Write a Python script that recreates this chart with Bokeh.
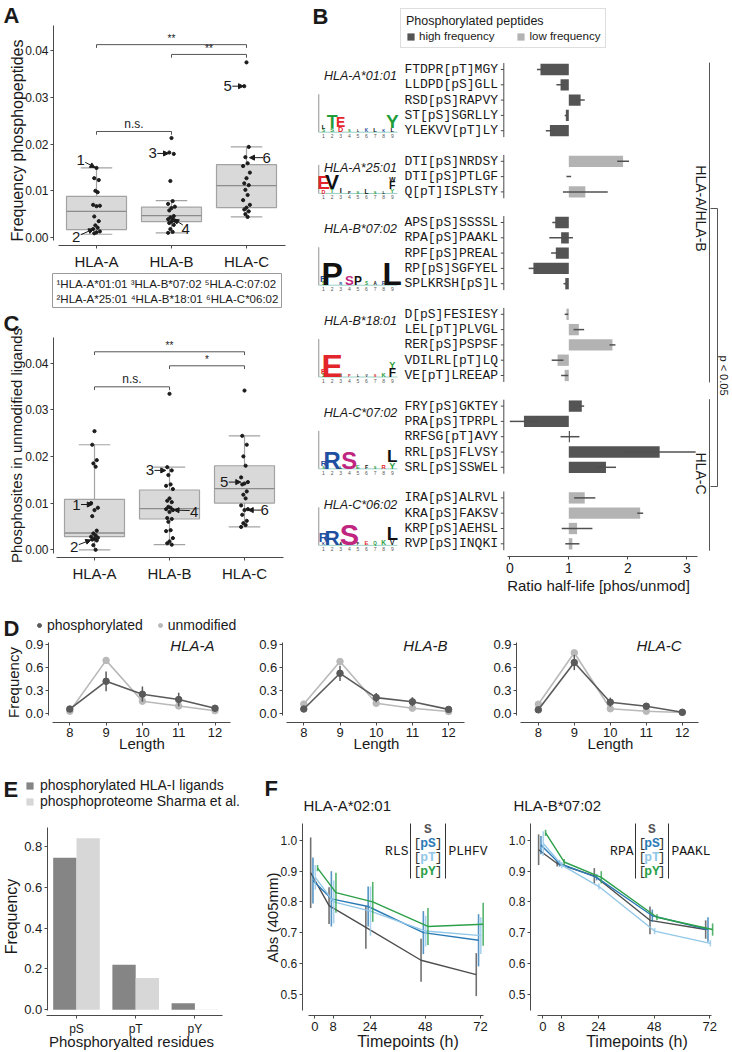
import math
from bokeh.plotting import figure
from bokeh.models import (Range1d, FixedTicker, NumeralTickFormatter, Label, Legend,
                          LegendItem, Arrow, NormalHead, ColumnDataSource, LinearAxis)
from bokeh.transform import dodge
from bokeh.core.properties import value
from bokeh.embed import file_html
from bokeh.resources import INLINE

SANS = "Liberation Sans"
MONO = "Liberation Mono"
TXT = "#1a1a1a"
AXC = "#4a4a4a"

# ----------------------------------------------------------------- data
hla_loci = ["HLA-A", "HLA-B", "HLA-C"]

# Panel A: frequency of phosphopeptides (box statistics + individual alleles)
a_low = [0.0007, 0.0010, 0.0044]
a_q1 = [0.0017, 0.0034, 0.0064]
a_med = [0.0056, 0.0047, 0.0111]
a_q3 = [0.0088, 0.0065, 0.0156]
a_high = [0.0149, 0.0079, 0.0194]
a_pts_hla_a = [0.0149, 0.0127, 0.0123, 0.0100, 0.0097, 0.0070, 0.0068, 0.0067, 0.0045,
               0.0035, 0.0026, 0.0021, 0.0018, 0.0013, 0.0011, 0.0009]
a_pts_hla_b = [0.0213, 0.0182, 0.0179, 0.0121, 0.0078, 0.0072, 0.0066, 0.0063, 0.0058,
               0.0046, 0.0043, 0.0040, 0.0039, 0.0036, 0.0034, 0.0031, 0.0027, 0.0018,
               0.0012, 0.0010]
a_pts_hla_c = [0.0375, 0.0324, 0.0194, 0.0172, 0.0159, 0.0153, 0.0139, 0.0127, 0.0116,
               0.0112, 0.0102, 0.0091, 0.0080, 0.0070, 0.0064, 0.0060, 0.0056, 0.0050, 0.0044]

# Panel C: phosphosites in unmodified ligands
c_low = [0.0000, 0.0011, 0.0049]
c_q1 = [0.0028, 0.0066, 0.0100]
c_med = [0.0036, 0.0088, 0.0131]
c_q3 = [0.0108, 0.0128, 0.0180]
c_high = [0.0225, 0.0177, 0.0244]
c_pts_hla_a = [0.0254, 0.0225, 0.0192, 0.0185, 0.0178, 0.0100, 0.0090, 0.0085, 0.0072,
               0.0041, 0.0035, 0.0031, 0.0028, 0.0026, 0.0024, 0.0022, 0.0020, 0.0010, 0.0000]
c_pts_hla_b = [0.0334, 0.0177, 0.0170, 0.0160, 0.0140, 0.0137, 0.0130, 0.0110, 0.0105,
               0.0102, 0.0092, 0.0090, 0.0087, 0.0085, 0.0081, 0.0068, 0.0066, 0.0060,
               0.0042, 0.0040, 0.0025, 0.0018, 0.0014, 0.0011]
c_pts_hla_c = [0.0341, 0.0244, 0.0225, 0.0200, 0.0180, 0.0155, 0.0145, 0.0142, 0.0140,
               0.0125, 0.0118, 0.0110, 0.0095, 0.0087, 0.0085, 0.0075, 0.0062, 0.0057,
               0.0053, 0.0049]

# Panel B: half-life ratios
b_alleles = ["HLA-A*01:01", "HLA-A*25:01", "HLA-B*07:02", "HLA-B*18:01", "HLA-C*07:02", "HLA-C*06:02"]
b_freq = ["high", "low", "high", "low", "high", "low"]
b_peptides = [
    ["FTDPR[pT]MGY", "LLDPD[pS]GLL", "RSD[pS]RAPVY", "ST[pS]SGRLLY", "YLEKVV[pT]LY"],
    ["DTI[pS]NRDSY", "DTI[pS]PTLGF", "Q[pT]ISPLSTY"],
    ["APS[pS]SSSSL", "RPA[pS]PAAKL", "RPF[pS]PREAL", "RP[pS]SGFYEL", "SPLKRSH[pS]L"],
    ["D[pS]FESIESY", "LEL[pT]PLVGL", "RER[pS]PSPSF", "VDILRL[pT]LQ", "VE[pT]LREEAP"],
    ["FRY[pS]GKTEY", "PRA[pS]TPRPL", "RRFSG[pT]AVY", "RRL[pS]FLVSY", "SRL[pS]SSWEL"],
    ["IRA[pS]ALRVL", "KRA[pS]FAKSV", "KRP[pS]AEHSL", "RVP[pS]INQKI"],
]
b_ratio = [
    [0.52, 0.86, 1.20, 0.95, 0.68],
    [1.92, 1.00, 1.28],
    [0.77, 0.87, 0.78, 0.40, 0.94],
    [0.96, 1.17, 1.74, 0.81, 0.93],
    [1.22, 0.24, 1.02, 2.54, 1.63],
    [1.27, 2.21, 1.14, 1.06],
]
b_err = [
    [0.06, 0.07, 0.07, 0.02, 0.07],
    [0.10, 0.04, 0.38],
    [0.05, 0.20, 0.08, 0.08, 0.03],
    [0.03, 0.09, 0.05, 0.10, 0.06],
    [0.04, 0.24, 0.16, 0.61, 0.17],
    [0.18, 0.05, 0.26, 0.12],
]
# sequence logos: (position, letter, bits, colour class), bottom to top
logo_a0101 = [(1, "S", 0.35, "g"), (1, "L", 0.45, "k"), (2, "S", 0.45, "g"), (2, "T", 1.35, "g"),
              (3, "D", 0.55, "r"), (3, "E", 1.05, "r"), (4, "S", 0.3, "g"), (5, "L", 0.25, "k"),
              (6, "K", 0.35, "b"), (7, "L", 0.45, "k"), (8, "K", 0.3, "b"), (9, "L", 0.45, "k"),
              (9, "Y", 1.45, "g")]
logo_a2501 = [(1, "D", 0.4, "r"), (1, "E", 1.45, "r"), (2, "T", 0.45, "g"), (2, "V", 1.6, "k"),
              (3, "I", 0.55, "k"), (4, "P", 0.3, "k"), (5, "S", 0.3, "g"), (6, "L", 0.5, "k"),
              (7, "S", 0.3, "g"), (8, "L", 0.3, "k"), (9, "Y", 0.45, "g"), (9, "F", 0.8, "k"),
              (9, "W", 0.5, "k")]
logo_b0702 = [(1, "S", 0.35, "g"), (1, "R", 0.75, "b"), (2, "P", 3.5, "k"), (3, "R", 0.3, "b"),
              (4, "S", 1.0, "m"), (5, "P", 0.9, "k"), (6, "S", 0.35, "g"), (7, "A", 0.35, "k"),
              (8, "R", 0.4, "b"), (9, "L", 2.4, "k")]
logo_b1801 = [(1, "S", 0.35, "g"), (1, "P", 0.55, "r"), (2, "E", 3.7, "r"), (3, "T", 0.25, "g"),
              (4, "P", 0.3, "r"), (5, "L", 0.25, "k"), (6, "V", 0.25, "k"), (7, "S", 0.3, "r"),
              (8, "K", 0.45, "g"), (9, "F", 0.9, "k"), (9, "Y", 0.7, "g")]
logo_c0702 = [(1, "S", 0.3, "g"), (1, "R", 0.6, "b"), (2, "R", 1.8, "b"), (3, "L", 0.3, "k"),
              (4, "S", 1.8, "m"), (5, "E", 0.45, "g"), (6, "F", 0.4, "k"), (7, "S", 0.3, "g"),
              (8, "R", 0.45, "r"), (9, "Y", 0.7, "g"), (9, "L", 1.3, "k")]
logo_c0602 = [(1, "K", 0.3, "b"), (1, "R", 1.0, "b"), (2, "R", 1.6, "b"), (3, "A", 0.3, "k"),
              (4, "S", 2.2, "m"), (5, "F", 0.3, "k"), (6, "E", 0.45, "r"), (7, "Q", 0.35, "g"),
              (8, "K", 0.5, "g"), (9, "V", 0.5, "k"), (9, "L", 1.4, "k")]
b_logos = [logo_a0101, logo_a2501, logo_b0702, logo_b1801, logo_c0702, logo_c0602]
b_logo_max_bits = [4, 3, 4, 4, 4, 4]

# Panel D: peptide length distributions
d_lengths = [8, 9, 10, 11, 12]
d_phos_hla_a = [0.055, 0.42, 0.25, 0.18, 0.065]
d_phos_err_hla_a = [0.03, 0.13, 0.10, 0.09, 0.02]
d_unmod_hla_a = [0.026, 0.695, 0.158, 0.095, 0.033]
d_unmod_err_hla_a = [0.01, 0.04, 0.02, 0.01, 0.01]
d_phos_hla_b = [0.055, 0.525, 0.205, 0.15, 0.05]
d_phos_err_hla_b = [0.02, 0.10, 0.06, 0.06, 0.02]
d_unmod_hla_b = [0.12, 0.68, 0.13, 0.066, 0.022]
d_unmod_err_hla_b = [0.01, 0.03, 0.01, 0.01, 0.01]
d_phos_hla_c = [0.044, 0.667, 0.145, 0.092, 0.012]
d_phos_err_hla_c = [0.02, 0.10, 0.06, 0.04, 0.01]
d_unmod_hla_c = [0.118, 0.795, 0.058, 0.026, 0.010]
d_unmod_err_hla_c = [0.01, 0.03, 0.01, 0.01, 0.005]

# Panel E: phosphorylated residues
e_residues = ["pS", "pT", "pY"]
e_hla_ligands = [0.743, 0.220, 0.032]
e_sharma = [0.839, 0.155, 0.002]

# Panel F: stability assay
f_time = [0, 8, 24, 48, 72]
f_series = ["S", "pS", "pT", "pY"]
f1_S = [0.895, 0.788, 0.717, 0.610, 0.563]
f1_S_err = [0.115, 0.060, 0.070, 0.070, 0.070]
f1_pS = [0.870, 0.810, 0.785, 0.700, 0.675]
f1_pS_err = [0.075, 0.090, 0.065, 0.070, 0.085]
f1_pT = [0.880, 0.800, 0.770, 0.705, 0.690]
f1_pT_err = [0.040, 0.070, 0.080, 0.050, 0.060]
f1_pY = [0.910, 0.830, 0.800, 0.720, 0.727]
f1_pY_err = [0.010, 0.065, 0.065, 0.060, 0.070]
f2_S = [0.970, 0.925, 0.885, 0.740, 0.710]
f2_S_err = [0.050, 0.010, 0.025, 0.045, 0.030]
f2_pS = [0.985, 0.925, 0.880, 0.755, 0.710]
f2_pS_err = [0.030, 0.010, 0.010, 0.020, 0.040]
f2_pT = [0.990, 0.920, 0.850, 0.705, 0.665]
f2_pT_err = [0.040, 0.010, 0.010, 0.010, 0.010]
f2_pY = [1.025, 0.930, 0.880, 0.750, 0.710]
f2_pY_err = [0.010, 0.010, 0.020, 0.010, 0.020]

# ----------------------------------------------------------------- canvas
PX0, PX1, PY0, PY1 = 0, 730, 0, 1050          # page pixel box of the single frame
p = figure(width=PX1 - PX0, height=PY1 - PY0, x_range=Range1d(PX0, PX1),
           y_range=Range1d(PY1, PY0), x_axis_location=None, y_axis_location=None,
           min_border_left=0, min_border_right=0, min_border_top=0, min_border_bottom=0,
           toolbar_location=None, output_backend="svg")
p.outline_line_color = None
p.background_fill_color = "white"
p.border_fill_color = "white"
p.grid.visible = False
p.xgrid.visible = False
p.ygrid.visible = False

SC = {}
XR, YR = {}, {}


def def_x(name, v0, s0, ppu):
    SC[name] = (v0, s0, ppu, 1)
    XR[name] = Range1d(v0 + (PX0 - s0) / ppu, v0 + (PX1 - s0) / ppu)


def def_y(name, v0, s0, ppu, down=False):
    if down:
        SC[name] = (v0, s0, ppu, 1)
        YR[name] = Range1d(v0 + (PY1 - s0) / ppu, v0 - (s0 - PY0) / ppu)
    else:
        SC[name] = (v0, s0, ppu, -1)
        YR[name] = Range1d(v0 - (PY1 - s0) / ppu, v0 + (s0 - PY0) / ppu)


def at(name, s):
    v0, s0, ppu, sign = SC[name]
    return v0 + sign * (s - s0) / ppu


# panel scales (value v0 at page pixel s0, pixels per unit)
def_x("A_x", 1, 96, 75)
def_y("A_y", 0, 237, 4670)
def_x("C_x", 1, 94, 75)
def_y("C_y", 0, 549.3, 4670)
def_x("B_x", 0, 509.3, 59)
def_y("B_y", 0, 69, 15.3, down=True)
def_x("logo_x", 1, 323, 8.6)
def_x("D1_x", 8, 69.3, 36.3)
def_x("D2_x", 8, 303.3, 36.2)
def_x("D3_x", 8, 537.8, 36.0)
def_y("D_y", 0, 712.7, 76)
def_x("E_x", 1, 76, 59.2)
def_y("E_y", 0, 1009.3, 204.5)
def_x("F1_x", 0, 314.3, 2.3)
def_x("F2_x", 0, 542.3, 2.32)
def_y("F_y", 1.0, 840, 307)
p.extra_x_ranges = XR
p.extra_y_ranges = YR


def add_axis(side, xn, yn, fixed, bounds, ticks, fmt=None, overrides=None,
             tick_size="13px", standoff=2):
    ax = LinearAxis(x_range_name=xn, y_range_name=yn, fixed_location=fixed, bounds=bounds,
                    ticker=FixedTicker(ticks=ticks))
    if fmt:
        ax.formatter = NumeralTickFormatter(format=fmt)
    if overrides:
        ax.major_label_overrides = overrides
    ax.axis_line_color = AXC
    ax.major_tick_line_color = AXC
    ax.minor_tick_line_color = None
    ax.major_tick_out = 3
    ax.major_tick_in = 0
    ax.major_label_text_font = SANS
    ax.major_label_text_font_size = tick_size
    ax.major_label_text_color = TXT
    ax.major_label_standoff = standoff
    p.add_layout(ax, side)
    return ax


def add_label(x, y, text, size="13px", color=TXT, style="normal", align="left",
              baseline="middle", font=SANS, angle=0.0, xn="default", yn="default"):
    p.add_layout(Label(x=x, y=y, x_range_name=xn, y_range_name=yn, text=text, text_font=font,
                       text_font_size=size, text_color=color, text_font_style=style,
                       text_align=align, text_baseline=baseline, angle=angle))


def axis_title(x, y, text, size="15px", vertical=False):
    add_label(x, y, text, size=size, align="center", baseline="middle",
              angle=math.pi / 2 if vertical else 0.0)


def style_legend(lg, size):
    lg.label_text_font = SANS
    lg.label_text_font_size = size
    lg.label_text_color = TXT
    lg.margin = 0
    lg.padding = 0
    lg.border_line_color = None
    lg.background_fill_alpha = 0


JIT = [0.0, -0.03, 0.03, -0.015, 0.015, -0.045, 0.045]


# ----------------------------------------------------------------- panels A and C
def box_panel(xn, yn, low, q1, med, q3, high, pts, brackets, callouts, axis_y_px, axis_x_px,
              top_px):
    kw = dict(x_range_name=xn, y_range_name=yn)
    xs = [i + 1 for i in range(len(hla_loci))]
    src = ColumnDataSource(dict(x=xs, l=[x - 0.4 for x in xs], r=[x + 0.4 for x in xs],
                                cl=[x - 0.21 for x in xs], cr=[x + 0.21 for x in xs],
                                low=low, q1=q1, med=med, q3=q3, high=high))
    wc = "#a3a3a3"
    for a, b, c, d in [('x', 'high', 'x', 'q3'), ('x', 'q1', 'x', 'low'),
                       ('cl', 'high', 'cr', 'high'), ('cl', 'low', 'cr', 'low')]:
        p.segment(a, b, c, d, source=src, line_color=wc, line_width=1.2, **kw)
    p.quad(left='l', right='r', bottom='q1', top='q3', source=src, fill_color="#d9d9d9",
           line_color="#a3a3a3", line_width=1.2, **kw)
    p.segment('l', 'med', 'r', 'med', source=src, line_color="#8c8c8c", line_width=1.3, **kw)
    px, py = [], []
    for x, vals in zip(xs, pts):
        for k, v in enumerate(vals):
            px.append(x + JIT[k % len(JIT)])
            py.append(v)
    p.scatter(px, py, size=3.2, color="#1c1c1c", **kw)
    for i0, i1, y, txt in brackets:
        p.segment([i0, i0, i1], [y, y - 0.0007, y - 0.0007], [i1, i0, i1], [y, y, y],
                  line_color="#555555", line_width=1, **kw)
        add_label((i0 + i1) / 2, y + 0.0002, txt, size="12px" if txt == "n.s." else "10px",
                  align="center", baseline="bottom", xn=xn, yn=yn)
    for num, lx, ly, x0, y0, x1, y1 in callouts:
        add_label(lx, ly, num, size="15px", align="center", baseline="middle", xn=xn, yn=yn)
        p.add_layout(Arrow(end=NormalHead(size=5, line_color=TXT, fill_color=TXT),
                           x_start=x0, y_start=y0, x_end=x1, y_end=y1, line_color=TXT,
                           line_width=1, **kw))
    add_axis("below", xn, yn, at(yn, axis_x_px), (0.49, 3.52), xs,
             overrides={x: n for x, n in zip(xs, hla_loci)}, tick_size="15px", standoff=4)
    add_axis("left", xn, yn, at(xn, axis_y_px), (-0.0007, at(yn, top_px)),
             [0.0, 0.01, 0.02, 0.03, 0.04], fmt="0.00", tick_size="12px")


box_panel("A_x", "A_y", a_low, a_q1, a_med, a_q3, a_high,
          [a_pts_hla_a, a_pts_hla_b, a_pts_hla_c],
          [(1, 3, 0.0413, "**"), (2, 3, 0.0392, "**"), (1, 2, 0.0227, "n.s.")],
          [("1", 0.79, 0.0165, 0.85, 0.0161, 0.98, 0.0150),
           ("2", 0.73, 0.0002, 0.79, 0.0006, 0.96, 0.0018),
           ("3", 1.75, 0.0180, 1.81, 0.0180, 1.96, 0.0180),
           ("4", 2.19, 0.0018, 2.15, 0.0027, 2.03, 0.0039),
           ("5", 2.75, 0.0324, 2.81, 0.0324, 2.96, 0.0324),
           ("6", 3.27, 0.0171, 3.22, 0.0171, 3.04, 0.0171)], 53, 245, 25)
axis_title(16.5, 140, "Frequency phosphopeptides", size="16px", vertical=True)
box_panel("C_x", "C_y", c_low, c_q1, c_med, c_q3, c_high,
          [c_pts_hla_a, c_pts_hla_b, c_pts_hla_c],
          [(1, 3, 0.0424, "**"), (2, 3, 0.0394, "*"), (1, 2, 0.0349, "n.s.")],
          [("1", 0.76, 0.0097, 0.82, 0.0097, 0.97, 0.0097),
           ("2", 0.73, 0.0006, 0.79, 0.0011, 0.95, 0.0021),
           ("3", 1.74, 0.0170, 1.80, 0.0170, 1.95, 0.0170),
           ("4", 2.33, 0.0082, 2.27, 0.0084, 2.06, 0.0085),
           ("5", 2.73, 0.0145, 2.79, 0.0145, 2.95, 0.0145),
           ("6", 3.27, 0.0085, 3.22, 0.0085, 3.05, 0.0085)], 53, 557, 337)
axis_title(15.5, 445, "Phosphosites in unmodified ligands", size="15px", vertical=True)

# allele key under panel A
p.quad(left=52, right=281, top=273, bottom=307, fill_color=None, line_color="#9a9a9a",
       line_width=1)
add_label(56, 283, "\u00b9HLA-A*01:01 \u00b3HLA-B*07:02 \u2075HLA-C:07:02", size="11.5px")
add_label(56, 298, "\u00b2HLA-A*25:01 \u2074HLA-B*18:01 \u2076HLA-C*06:02", size="11.5px")

# ----------------------------------------------------------------- panel B
bkw = dict(x_range_name="B_x", y_range_name="B_y")
rows = dict(slot=[], pep=[], ratio=[], lo=[], hi=[], freq=[])
groups = []
s = 0
for allele, peps, rat, err, fr in zip(b_alleles, b_peptides, b_ratio, b_err, b_freq):
    first = s
    for pep, r, e in zip(peps, rat, err):
        rows["slot"].append(s)
        rows["pep"].append(pep)
        rows["ratio"].append(r)
        rows["lo"].append(r - e)
        rows["hi"].append(r + e)
        rows["freq"].append(fr)
        s += 1
    groups.append((allele, first, s - 1))
    s += 1


def subset(level):
    return ColumnDataSource({k: [v for v, f in zip(rows[k], rows["freq"]) if f == level]
                             for k in rows})


SLOT_PX = 15.3


def slot_px(slot):
    return 69 + slot * SLOT_PX


r_hi = p.hbar(y='slot', left=1, right='ratio', height=0.74, source=subset("high"),
              fill_color="#545454", line_color=None, **bkw)
r_lo = p.hbar(y='slot', left=1, right='ratio', height=0.74, source=subset("low"),
              fill_color="#b3b3b3", line_color=None, **bkw)
src_all = ColumnDataSource(rows)
p.segment('lo', 'slot', 'hi', 'slot', source=src_all, line_color="#505050", line_width=1.5, **bkw)
p.text(x=at("B_x", 497.5), y='slot', text='pep', source=src_all, text_font=value(MONO),
       text_font_size="13px", text_align="right", text_baseline="middle", text_color=TXT, **bkw)
x_ax = at("B_x", 503.3)
p.segment(x0=at("B_x", 500.3), y0='slot', x1=x_ax, y1='slot', source=src_all,
          line_color=AXC, **bkw)
p.segment(x0=x_ax, y0=[g[1] - 0.42 for g in groups], x1=x_ax, y1=[g[2] + 0.42 for g in groups],
          line_color=AXC, line_width=1, **bkw)
add_axis("below", "B_x", "B_y", at("B_y", 556), (-0.04, 3.18), [0, 1, 2, 3],
         tick_size="14px", standoff=3)
axis_title(598, 585, "Ratio half-life [phos/unmod]", size="15px")

# locus strips and significance bracket
sx_line, sx_text, sx_br, sx_p = 709, 700, 717, 723
p.segment(x0=[sx_line, sx_line],
          y0=[slot_px(groups[0][1] - 0.45), slot_px(groups[4][1] - 0.45)],
          x1=[sx_line, sx_line],
          y1=[slot_px(groups[3][2] + 0.45), slot_px(groups[5][2] + 0.45)],
          line_color="#555555", line_width=1)
add_label(sx_text, 208, "HLA-A/HLA-B", size="14px", align="center", angle=-math.pi / 2)
add_label(sx_text, 473, "HLA-C", size="14px", align="center", angle=-math.pi / 2)
p.segment(x0=[sx_line + 1, sx_line + 1, sx_br], y0=[208, 486, 208],
          x1=[sx_br, sx_br, sx_br], y1=[208, 486, 486], line_color="#555555", line_width=1)
add_label(sx_p, 375, "p < 0.05", size="11px", align="center", angle=-math.pi / 2)

# sequence logos (letters stacked from the baseline; height follows information content)
COL = {"g": "#1f9e3a", "r": "#e3242b", "b": "#1f4fa0", "m": "#c0267f", "k": "#111111"}
PX_PER_BIT = 9.5
CAP = 0.72          # cap height / font size
lkw = dict(x_range_name="logo_x", y_range_name="B_y")
lx, ly, lt, lc, lf = [], [], [], [], []
ax_x0, ax_y0, ax_y1 = [], [], []
num_x, num_y, num_t = [], [], []
lab_x, lab_y, lab_t = [], [], []
for (allele, first, last), logo, mb in zip(groups, b_logos, b_logo_max_bits):
    base = last + 0.1
    cum = {}
    for pos, let, bits, col in logo:
        fs = min(bits * PX_PER_BIT / CAP, 32.0)
        h = fs * CAP
        c_px = cum.get(pos, 0.0)
        lx.append(pos)
        ly.append(base - (c_px + h / 2) / SLOT_PX)
        lt.append(let)
        lc.append(COL[col])
        lf.append("%.1fpx" % fs)
        cum[pos] = c_px + h
    ax_x0.append(0.45)
    ax_y0.append(base)
    ax_y1.append(base - mb * PX_PER_BIT / SLOT_PX)
    for n in range(1, 10):
        num_x.append(n)
        num_y.append(base + 0.25)
        num_t.append(str(n))
    lab_x.append(5.3)
    lab_y.append(first + 0.45)
    lab_t.append(allele)
p.segment(x0=ax_x0, y0=ax_y0, x1=ax_x0, y1=ax_y1, line_color="#777777", line_width=0.8, **lkw)
p.segment(x0=ax_x0, y0=ax_y0, x1=[9.6] * len(ax_x0), y1=ax_y0, line_color="#9ad0c8",
          line_width=1, **lkw)
p.text(x=lx, y=ly, text=lt, text_color=lc, text_font_size=lf, text_font=value(SANS),
       text_font_style="bold", text_align="center", text_baseline="middle", **lkw)
p.text(x=num_x, y=num_y, text=num_t, text_font=value(SANS), text_font_size="5px",
       text_align="center", text_baseline="middle", text_color="#555555", **lkw)
p.text(x=lab_x, y=lab_y, text=lab_t, text_font=value(SANS), text_font_size="12.5px",
       text_font_style="italic", text_align="center", text_baseline="middle", text_color=TXT,
       **lkw)

lg_b = Legend(items=[LegendItem(label="high frequency", renderers=[r_hi]),
                     LegendItem(label="low frequency", renderers=[r_lo])],
              title="Phosphorylated peptides", orientation="horizontal",
              location=(400 - PX0, PY1 - 48))
style_legend(lg_b, "11.5px")
lg_b.title_text_font = SANS
lg_b.title_text_font_size = "12.5px"
lg_b.title_text_font_style = "normal"
lg_b.title_text_color = TXT
lg_b.title_standoff = 2
lg_b.label_height = 12
lg_b.glyph_height = 9
lg_b.glyph_width = 9
lg_b.label_standoff = 4
lg_b.spacing = 22
lg_b.padding = 5
lg_b.border_line_color = "#bdbdbd"
lg_b.background_fill_alpha = 1
p.add_layout(lg_b)

# ----------------------------------------------------------------- panel D
DARK_D, LIGHT_D = "#5a5a5a", "#b9b9b9"
d_sets = [("D1_x", 48, 214, 141.5, "HLA-A", d_phos_hla_a, d_phos_err_hla_a, d_unmod_hla_a, d_unmod_err_hla_a),
          ("D2_x", 281.7, 447, 376, "HLA-B", d_phos_hla_b, d_phos_err_hla_b, d_unmod_hla_b, d_unmod_err_hla_b),
          ("D3_x", 516, 681, 610, "HLA-C", d_phos_hla_c, d_phos_err_hla_c, d_unmod_hla_c, d_unmod_err_hla_c)]
legend_renderers = None
for k, (xn, ax_px, lab_px, len_px, locus, ph, phe, um, ume) in enumerate(d_sets):
    kw = dict(x_range_name=xn, y_range_name="D_y")
    src = ColumnDataSource(dict(x=d_lengths, p=ph, u=um,
                                plo=[v - e for v, e in zip(ph, phe)],
                                phi=[v + e for v, e in zip(ph, phe)],
                                ulo=[v - e for v, e in zip(um, ume)],
                                uhi=[v + e for v, e in zip(um, ume)]))
    p.segment('x', 'ulo', 'x', 'uhi', source=src, line_color=LIGHT_D, line_width=1.5, **kw)
    p.line('x', 'u', source=src, line_color=LIGHT_D, line_width=1.6, **kw)
    ru = p.scatter('x', 'u', source=src, size=6.5, color=LIGHT_D, **kw)
    p.segment('x', 'plo', 'x', 'phi', source=src, line_color=DARK_D, line_width=1.5, **kw)
    p.line('x', 'p', source=src, line_color=DARK_D, line_width=1.6, **kw)
    rp = p.scatter('x', 'p', source=src, size=6.5, color=DARK_D, **kw)
    if k == 0:
        legend_renderers = (rp, ru)
    add_axis("below", xn, "D_y", at("D_y", 721.7), (at(xn, ax_px + 4), at(xn, ax_px + 182)),
             d_lengths, tick_size="13px", standoff=3)
    add_axis("left", xn, "D_y", at(xn, ax_px), (-0.03, 0.934), [0.0, 0.3, 0.6, 0.9], fmt="0.0",
             tick_size="13px")
    axis_title(len_px, 743, "Length", size="15px")
    add_label(lab_px, 645, locus, size="15px", style="italic", align="right")
axis_title(13, 682, "Frequency", size="15px", vertical=True)
lg_d = Legend(items=[LegendItem(label="phosphorylated", renderers=[legend_renderers[0]]),
                     LegendItem(label="unmodified", renderers=[legend_renderers[1]])],
              orientation="horizontal", location=(34 - PX0, PY1 - 633))
style_legend(lg_d, "14px")
lg_d.label_height = 16
lg_d.glyph_height = 12
lg_d.glyph_width = 10
lg_d.label_standoff = 3
lg_d.spacing = 12
p.add_layout(lg_d)

# ----------------------------------------------------------------- panel E
ekw = dict(x_range_name="E_x", y_range_name="E_y")
e_x = [i + 1 for i in range(len(e_residues))]
esrc = ColumnDataSource(dict(x=e_x, lig=e_hla_ligands, sh=e_sharma))
r_lig = p.vbar(x=dodge('x', -0.197), top='lig', width=0.394, source=esrc,
               fill_color="#858585", line_color=None, **ekw)
r_sh = p.vbar(x=dodge('x', 0.197), top='sh', width=0.394, source=esrc,
              fill_color="#d7d7d7", line_color=None, **ekw)
add_axis("below", "E_x", "E_y", at("E_y", 1015), (0.49, 3.46), e_x,
         overrides={x: n for x, n in zip(e_x, e_residues)}, tick_size="12px", standoff=3)
add_axis("left", "E_x", "E_y", at("E_x", 46.7), (-0.003, 0.893), [0.0, 0.2, 0.4, 0.6, 0.8],
         fmt="0.0", tick_size="13px")
axis_title(131, 1041, "Phosphoryalted residues", size="15px")
axis_title(11, 916, "Frequency", size="16px", vertical=True)
lg_e = Legend(items=[LegendItem(label="phosphorylated HLA-I ligands", renderers=[r_lig]),
                     LegendItem(label="phosphoproteome Sharma et al.", renderers=[r_sh])],
              orientation="vertical", location=(25 - PX0, PY1 - 809))
style_legend(lg_e, "14px")
lg_e.label_height = 14
lg_e.glyph_height = 9
lg_e.glyph_width = 9
lg_e.label_standoff = 6
lg_e.spacing = 0
p.add_layout(lg_e)

# ----------------------------------------------------------------- panel F
F_COLORS = {"S": "#4d4d4d", "pS": "#2c7bb6", "pT": "#92c7e8", "pY": "#2ca048"}
F_OFFS = {"S": -1.8, "pS": -0.8, "pT": 0.2, "pY": 1.2}
f_sets = [("F1_x", 301.7, 303, 407.5, "HLA-A*02:01", True, "RLS", "PLHFV", 410, 445,
           {"S": (f1_S, f1_S_err), "pS": (f1_pS, f1_pS_err), "pT": (f1_pT, f1_pT_err),
            "pY": (f1_pY, f1_pY_err)}),
          ("F2_x", 530, 513, 636.5, "HLA-B*07:02", False, "RPA", "PAAKL", 635, 668,
           {"S": (f2_S, f2_S_err), "pS": (f2_pS, f2_pS_err), "pT": (f2_pT, f2_pT_err),
            "pY": (f2_pY, f2_pY_err)})]
for xn, ax_px, title_px, tp_px, title, first, prefix, suffix, b1, b2, data in f_sets:
    kw = dict(x_range_name=xn, y_range_name="F_y")
    for name in f_series:
        vals, errs = data[name]
        src = ColumnDataSource(dict(t=f_time, v=vals,
                                    lo=[v - e for v, e in zip(vals, errs)],
                                    hi=[v + e for v, e in zip(vals, errs)]))
        c = F_COLORS[name]
        p.segment(x0=dodge('t', F_OFFS[name]), y0='lo', x1=dodge('t', F_OFFS[name]), y1='hi',
                  source=src, line_color=c, line_width=1.6, line_alpha=0.8, **kw)
        p.line(x=dodge('t', F_OFFS[name]), y='v', source=src, line_color=c, line_width=1.4, **kw)
    add_axis("below", xn, "F_y", at("F_y", 1015), (at(xn, ax_px + 6.5), at(xn, ax_px + 181)),
             f_time, tick_size="13px", standoff=3)
    add_axis("left", xn, "F_y", at(xn, ax_px), (at("F_y", 1010), at("F_y", 823)),
             [0.5, 0.6, 0.7, 0.8, 0.9, 1.0], fmt="0.0", tick_size="12px")
    axis_title(tp_px, 1041, "Timepoints (h)", size="16px")
    if first:
        axis_title(271.5, 917, "Abs (405mm)", size="15px", vertical=True)
    add_label(title_px, 805, title, size="15px")
    # peptide sequence annotation
    p.segment(x0=[b1, b2], y0=[823, 823], x1=[b1, b2], y1=[878, 878], line_color="#333333",
              line_width=1)
    add_label(b1 - 2, 851, prefix, size="13px", font=MONO, align="right")
    add_label(b2 + 3, 851, suffix, size="13px", font=MONO, align="left")
    mid = (b1 + b2) / 2
    add_label(mid, 829, "S", size="13px", font=MONO, align="center", color="#555555",
              style="bold")
    for yy, nm in zip([843, 857, 871], ["pS", "pT", "pY"]):
        add_label(b1 + 3, yy, "[", size="13px", font=MONO, align="left", color="#333333")
        add_label(b2 - 3, yy, "]", size="13px", font=MONO, align="right", color="#333333")
        add_label(mid, yy, nm, size="13px", font=MONO, align="center", style="bold",
                  color=F_COLORS[nm])

# ----------------------------------------------------------------- panel letters
for letter, lxp, lyp in [("A", 3, 2), ("B", 312, 3), ("C", 3, 310), ("D", 3, 615),
                         ("E", 3, 776), ("F", 264, 775)]:
    add_label(lxp, lyp, letter, size="22px", style="bold", baseline="top")

open("out.html", "w").write(file_html(p, INLINE, "Figure"))
